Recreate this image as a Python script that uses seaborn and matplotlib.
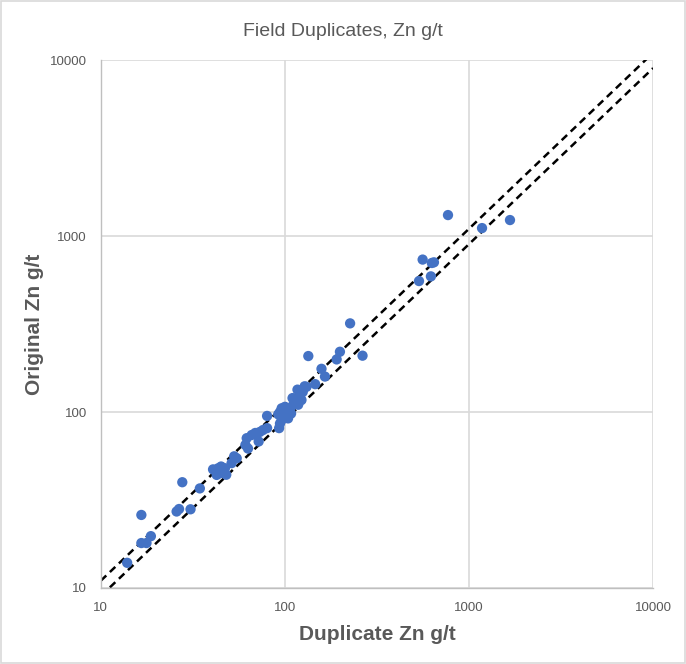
import numpy as np
import pandas as pd
import matplotlib
matplotlib.use("Agg")
import matplotlib.pyplot as plt
import matplotlib.ticker as mticker
import seaborn as sns

# duplicate vs original Zn assays (g/t)
duplicate = [13.9, 16.6, 16.6, 17.7, 18.7, 25.8, 26.6, 27.7, 30.7, 34.5,
             40.7, 43.4, 45.3, 44.4, 47.2, 51.3, 54.7, 42.6, 48, 45,
             53, 61, 62, 63, 66, 69, 73, 76, 72, 70,
             80, 80, 93, 94, 96, 98, 94, 102, 96, 100,
             107, 104, 111, 118, 116, 121, 123, 117, 131, 128,
             105, 110, 125, 108, 92, 146, 158, 165, 134, 191,
             199, 226, 264, 535, 560, 621, 628, 645, 769, 1177, 1670]
original = [13.9, 26, 18, 18, 19.7, 27.2, 28.1, 39.9, 28, 36.8,
            47.2, 47.9, 45.8, 44.9, 47.9, 51.2, 54.6, 43.9, 44, 49,
            56, 65, 71, 62, 74, 76, 77, 79, 68, 75,
            95, 81, 81, 86, 90, 96, 100, 100, 105, 107,
            105, 92, 110, 110, 114, 125, 117, 134, 139, 140,
            100, 120, 130, 98, 97, 144, 176, 159, 208, 199,
            220, 319, 209, 555, 735, 590, 703, 709, 1316, 1110, 1233]

line_x = [10, 10000]
upper_factor = 1.1
lower_factor = 0.9

df = pd.DataFrame({"dup": duplicate, "orig": original})

sns.set_style("white")
plt.rcParams["font.family"] = ["Liberation Sans", "DejaVu Sans"]

fig = plt.figure(figsize=(6.86, 6.64), dpi=100)
ax = fig.add_axes([0.147, 0.1145, 0.805, 0.795])

grey_txt = "#595959"
grid_c = "#D9D9D9"

# +/- 10% lines
lx = np.array(line_x, dtype=float)
ax.plot(lx, lx * upper_factor, color="black", ls=(0, (3, 2)), lw=1.8, zorder=2)
ax.plot(lx, lx * lower_factor, color="black", ls=(0, (3, 2)), lw=1.8, zorder=2)

sns.scatterplot(data=df, x="dup", y="orig", ax=ax, color="#4472C4",
                s=55, edgecolor="none", zorder=3)

ax.set_xscale("log")
ax.set_yscale("log")
ax.set_xlim(10, 10000)
ax.set_ylim(10, 10000)

fmt = mticker.FuncFormatter(lambda v, p: f"{int(round(v))}")
for axis in (ax.xaxis, ax.yaxis):
    axis.set_major_locator(mticker.LogLocator(base=10))
    axis.set_minor_locator(mticker.NullLocator())
    axis.set_major_formatter(fmt)

ax.grid(True, color=grid_c, lw=1.2, zorder=0)
ax.set_axisbelow(True)
for side in ("top", "right"):
    ax.spines[side].set_visible(False)
for side in ("left", "bottom"):
    ax.spines[side].set_color("#BFBFBF")
    ax.spines[side].set_linewidth(1.0)
ax.tick_params(axis="both", length=4, color="#BFBFBF", labelsize=9.5,
               labelcolor=grey_txt, pad=6)

ax.set_xlabel("Duplicate Zn g/t", fontsize=15, fontweight="bold", color=grey_txt, labelpad=8)
ax.set_ylabel("Original Zn g/t", fontsize=15, fontweight="bold", color=grey_txt, labelpad=4)
fig.suptitle("Field Duplicates, Zn g/t", y=0.965, fontsize=14, color=grey_txt)

# chart border
fig.patches.append(plt.Rectangle((0.002, 0.002), 0.996, 0.996, transform=fig.transFigure,
                                 fill=False, edgecolor="#D9D9D9", lw=1.2))

fig.savefig("out.png", dpi=100)
